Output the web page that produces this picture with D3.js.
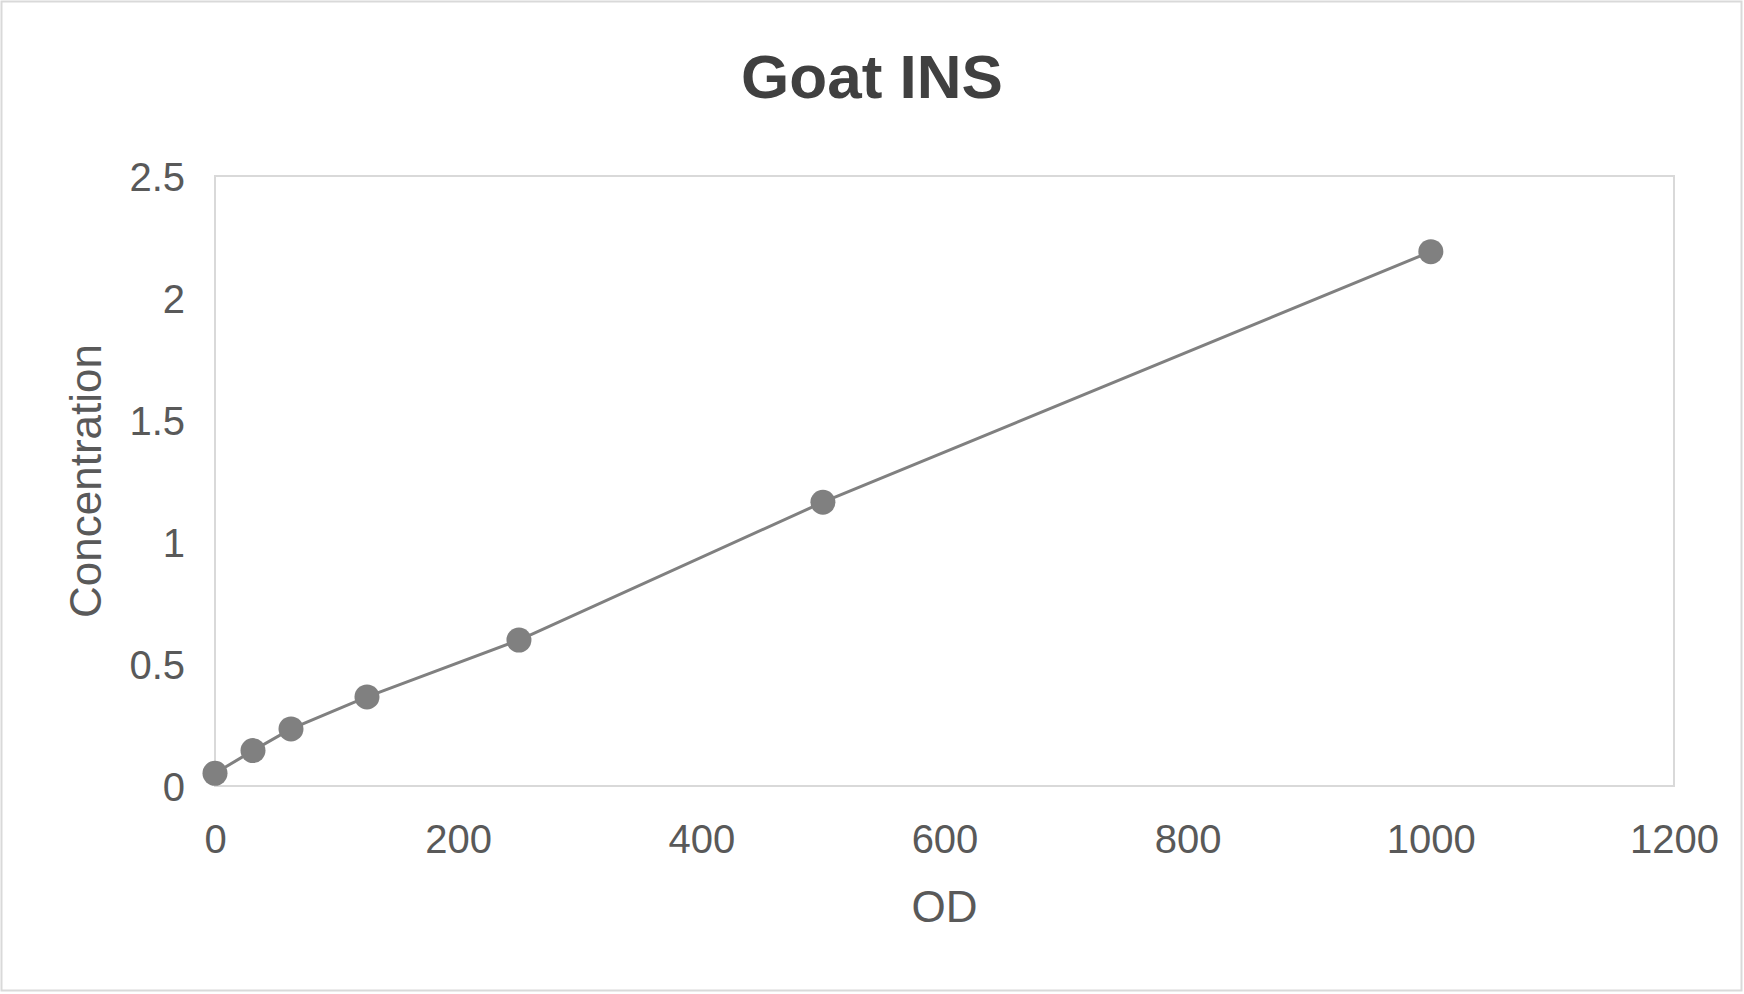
<!DOCTYPE html>
<html>
<head>
<meta charset="utf-8">
<script src="https://cdn.jsdelivr.net/npm/d3@7"></script>
<style>
  body { margin: 0; background: #fff; }
  text { font-family: "Liberation Sans", Arial, sans-serif; }
</style>
</head>
<body>
<script>
// data
var odValues = [0, 31.25, 62.5, 125, 250, 500, 1000];
var concValues = [0.052, 0.145, 0.234, 0.365, 0.598, 1.163, 2.19];
var xTicks = [0, 200, 400, 600, 800, 1000, 1200];
var yTicks = [0, 0.5, 1, 1.5, 2, 2.5];

var w = 1744;
var h = 994;
var plot = { left: 215, right: 1674, top: 176, bottom: 786 };

var svg = d3.select("body")
  .append("svg")
  .attr("width", w)
  .attr("height", h);

// outer chart border
svg.append("rect")
  .attr("x", 1.5).attr("y", 1.5)
  .attr("width", w - 4).attr("height", h - 5)
  .attr("fill", "#fff")
  .attr("stroke", "#d9d9d9")
  .attr("stroke-width", 2);

var x = d3.scaleLinear().domain([0, 1200]).range([plot.left, plot.right]);
var y = d3.scaleLinear().domain([0, 2.5]).range([plot.bottom, plot.top]);

// plot area box
svg.append("rect")
  .attr("x", plot.left).attr("y", plot.top)
  .attr("width", plot.right - plot.left)
  .attr("height", plot.bottom - plot.top)
  .attr("fill", "none")
  .attr("stroke", "#d9d9d9")
  .attr("stroke-width", 2);

// title
svg.append("text")
  .attr("x", 872).attr("y", 98)
  .attr("text-anchor", "middle")
  .attr("font-size", 62)
  .attr("font-weight", "bold")
  .attr("fill", "#404040")
  .text("Goat INS");

// axes
var xAxis = svg.append("g")
  .attr("transform", "translate(0," + plot.bottom + ")")
  .call(d3.axisBottom(x).tickValues(xTicks).tickSize(0).tickFormat(d3.format("d")));
xAxis.select(".domain").remove();
xAxis.selectAll("text")
  .attr("dy", null)
  .attr("y", 67)
  .attr("font-size", 40)
  .attr("fill", "#595959");

var yAxis = svg.append("g")
  .attr("transform", "translate(" + plot.left + ",0)")
  .call(d3.axisLeft(y).tickValues(yTicks).tickSize(0).tickFormat(function(d) { return String(d); }));
yAxis.select(".domain").remove();
yAxis.selectAll("text")
  .attr("x", -30)
  .attr("dy", "0.36em")
  .attr("font-size", 40)
  .attr("fill", "#595959");

// axis titles
svg.append("text")
  .attr("x", (plot.left + plot.right) / 2).attr("y", 922)
  .attr("text-anchor", "middle")
  .attr("font-size", 44)
  .attr("fill", "#595959")
  .text("OD");

svg.append("text")
  .attr("transform", "translate(101," + (plot.top + plot.bottom) / 2 + ") rotate(-90)")
  .attr("text-anchor", "middle")
  .attr("font-size", 44)
  .attr("fill", "#595959")
  .text("Concentration");

// series
var points = odValues.map(function(d, i) { return [d, concValues[i]]; });

var line = d3.line()
  .x(function(d) { return x(d[0]); })
  .y(function(d) { return y(d[1]); });

svg.append("path")
  .datum(points)
  .attr("d", line)
  .attr("fill", "none")
  .attr("stroke", "#808080")
  .attr("stroke-width", 3);

svg.selectAll("circle.pt")
  .data(points)
  .enter()
  .append("circle")
  .attr("class", "pt")
  .attr("cx", function(d) { return x(d[0]); })
  .attr("cy", function(d) { return y(d[1]); })
  .attr("r", 12.5)
  .attr("fill", "#808080");
</script>
</body>
</html>
